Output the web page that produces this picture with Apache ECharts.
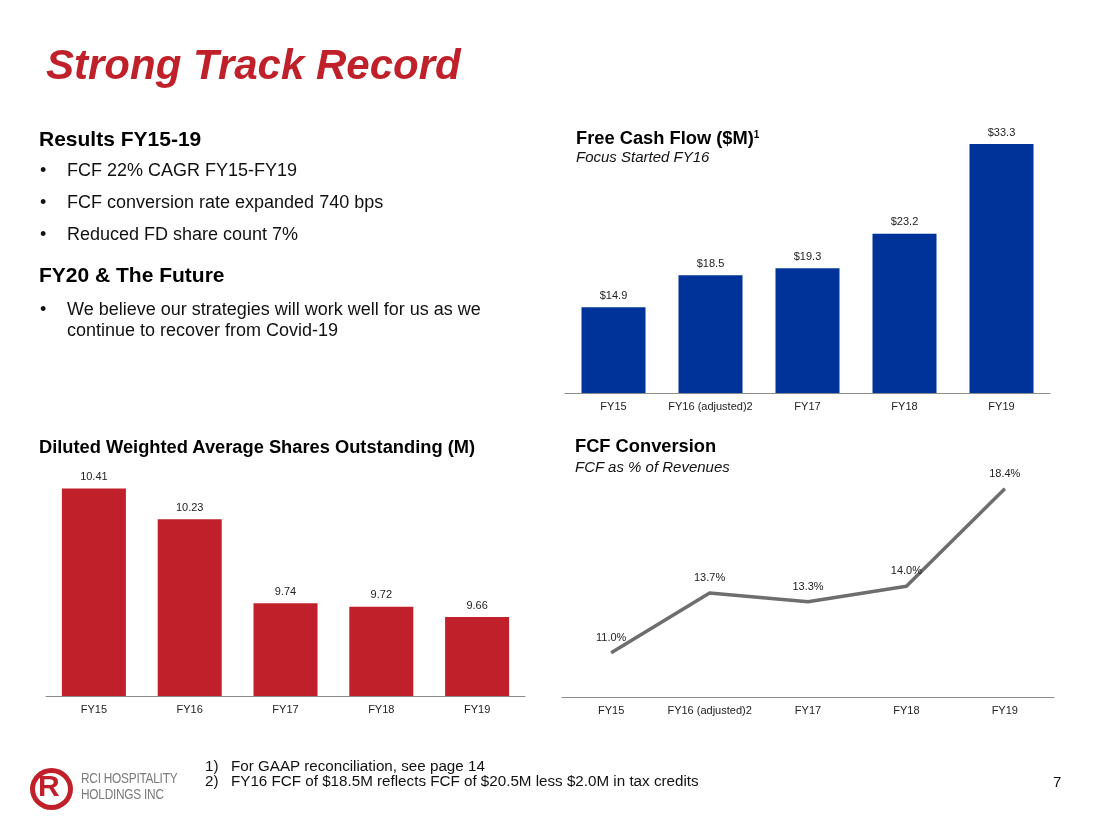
<!DOCTYPE html>
<html>
<head>
<meta charset="utf-8">
<script src="https://cdn.jsdelivr.net/npm/echarts@6/dist/echarts.min.js"></script>
<style>
  body { margin: 0; background: #fff; font-family: "Liberation Sans", Arial, sans-serif; }
  #page { position: relative; width: 1100px; height: 824px; overflow: hidden; }
  #main { position: absolute; left: 0; top: 0; width: 1100px; height: 824px; }
  .t { position: absolute; white-space: nowrap; color: #000; }
  .h1 { font-size: 42px; font-weight: bold; font-style: italic; color: #c0202a; line-height: 42px; }
  .h2 { font-size: 21px; font-weight: bold; line-height: 21px; }
  .b { font-size: 18px; line-height: 18px; color: #111; }
  .ct { font-size: 18.3px; font-weight: bold; line-height: 18.3px; }
  .cs { font-size: 15px; font-style: italic; line-height: 15px; color: #111; }
  .fn { font-size: 15.2px; line-height: 15.2px; color: #111; }
  .logo-ring { position: absolute; left: 30px; top: 768px; width: 33px; height: 32px; border: 5px solid #c0202a; border-radius: 50%; }
  .logo-r { position: absolute; left: 38px; top: 771px; font-size: 30px; font-weight: bold; color: #c0202a; line-height: 30px; }
  .logo-t { position: absolute; left: 81px; font-size: 15px; line-height: 15px; color: #7a7a7a; letter-spacing: -0.3px; white-space: nowrap; transform: scaleX(0.79); transform-origin: left top; }
</style>
</head>
<body>
<div id="page">
  <div id="main"></div>

  <div class="t h1" style="left:46px; top:44px;">Strong Track Record</div>

  <div class="t h2" style="left:39px; top:128px;">Results FY15-19</div>
  <div class="t b" style="left:40px; top:161px;">•</div>
  <div class="t b" style="left:67px; top:161px;">FCF 22% CAGR FY15-FY19</div>
  <div class="t b" style="left:40px; top:193px;">•</div>
  <div class="t b" style="left:67px; top:193px;">FCF conversion rate expanded 740 bps</div>
  <div class="t b" style="left:40px; top:225px;">•</div>
  <div class="t b" style="left:67px; top:225px;">Reduced FD share count 7%</div>

  <div class="t h2" style="left:39px; top:264px;">FY20 &amp; The Future</div>
  <div class="t b" style="left:40px; top:300px;">•</div>
  <div class="t b" style="left:67px; top:300px;">We believe our strategies will work well for us as we</div>
  <div class="t b" style="left:67px; top:321px;">continue to recover from Covid-19</div>

  <div class="t ct" style="left:576px; top:126px;">Free Cash Flow ($M)<sup style="font-size:10px; vertical-align:6px;">1</sup></div>
  <div class="t cs" style="left:576px; top:149px;">Focus Started FY16</div>

  <div class="t ct" style="left:39px; top:438px;">Diluted Weighted Average Shares Outstanding (M)</div>

  <div class="t ct" style="left:575px; top:437px;">FCF Conversion</div>
  <div class="t cs" style="left:575px; top:459px;">FCF as % of Revenues</div>

  <div class="logo-ring"></div>
  <div class="logo-r">R</div>
  <div class="logo-t" style="top:770px;">RCI HOSPITALITY</div>
  <div class="logo-t" style="top:786px;">HOLDINGS INC</div>

  <div class="t fn" style="left:205px; top:758px;">1)</div>
  <div class="t fn" style="left:231px; top:758px;">For GAAP reconciliation, see page 14</div>
  <div class="t fn" style="left:205px; top:773px;">2)</div>
  <div class="t fn" style="left:231px; top:773px;">FY16 FCF of $18.5M reflects FCF of $20.5M less $2.0M in tax credits</div>

  <div class="t fn" style="left:1053px; top:774px; font-size:15px;">7</div>
</div>
<script>
// 数据
var fcfYears = ["FY15", "FY16 (adjusted)2", "FY17", "FY18", "FY19"];
var fcfValues = [14.9, 18.5, 19.3, 23.2, 33.3];

var shareYears = ["FY15", "FY16", "FY17", "FY18", "FY19"];
var shareValues = [10.41, 10.23, 9.74, 9.72, 9.66];

var convYears = ["FY15", "FY16 (adjusted)2", "FY17", "FY18", "FY19"];
var convValues = [11.0, 13.7, 13.3, 14.0, 18.4];

var chart = echarts.init(document.getElementById('main'));

var axisLabel = { color: "#222", fontSize: 11, fontFamily: "Liberation Sans", margin: 8, interval: 0 };
var axisLine = { show: true, lineStyle: { color: "#8c8c8c", width: 1 } };
var valueLabel = { show: true, position: "top", color: "#222", fontSize: 11, fontFamily: "Liberation Sans", distance: 6 };

var option = {
	animation : false,
	grid : [
		{ left : 565, right : 50, top : 120, bottom : 431 },
		{ left : 46, right : 575, top : 473, bottom : 128 },
		{ left : 562, right : 46, top : 470, bottom : 127 }
	],
	xAxis : [
		{ type : "category", gridIndex : 0, data : fcfYears, axisLine : axisLine, axisTick : { show : false }, axisLabel : axisLabel },
		{ type : "category", gridIndex : 1, data : shareYears, axisLine : axisLine, axisTick : { show : false }, axisLabel : axisLabel },
		{ type : "category", gridIndex : 2, data : convYears, axisLine : axisLine, axisTick : { show : false }, axisLabel : axisLabel }
	],
	yAxis : [
		{ type : "value", gridIndex : 0, min : 5.25, max : 36, show : false },
		{ type : "value", gridIndex : 1, min : 9.2, max : 10.5, show : false },
		{ type : "value", gridIndex : 2, min : 9, max : 19.25, show : false }
	],
	series : [
		{
			type : "bar",
			xAxisIndex : 0,
			yAxisIndex : 0,
			data : fcfValues,
			barWidth : 64,
			itemStyle : { color : "#003399" },
			label : Object.assign({}, valueLabel, {
				formatter : function(p){ return "$" + p.value.toFixed(1); }
			})
		},
		{
			type : "bar",
			xAxisIndex : 1,
			yAxisIndex : 1,
			data : shareValues,
			barWidth : 64,
			itemStyle : { color : "#c0202a" },
			label : Object.assign({}, valueLabel, {
				formatter : function(p){ return p.value.toFixed(2); }
			})
		},
		{
			type : "line",
			xAxisIndex : 2,
			yAxisIndex : 2,
			data : convValues,
			symbol : "circle",
			symbolSize : 1,
			showSymbol : true,
			itemStyle : { color : "#6e6e6e" },
			lineStyle : { color : "#6e6e6e", width : 3.5 },
			label : Object.assign({}, valueLabel, {
				distance : 9,
				formatter : function(p){ return p.value.toFixed(1) + "%"; }
			})
		}
	]
};
chart.setOption(option);
</script>
</body>
</html>
